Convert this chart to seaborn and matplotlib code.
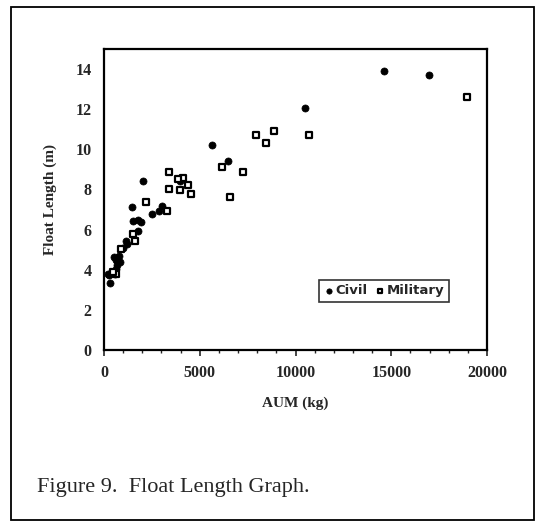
import numpy as np
import pandas as pd
import seaborn as sns
from matplotlib import pyplot as plt
from matplotlib.patches import Rectangle
from matplotlib.ticker import MultipleLocator

sns.set_style("white")
plt.rcParams["font.family"] = ["Liberation Serif", "DejaVu Serif"]

# Civil aircraft: AUM (kg) vs float length (m)
civil_aum = [14600, 16950, 10500, 5650, 6470, 2050, 3950, 1480, 3050, 2870,
             2500, 1520, 1780, 1930, 1750, 1150, 1200, 1000, 850, 700,
             760, 500, 600, 650, 400, 300, 250, 220, 350, 450, 550]
civil_len = [13.9, 13.7, 12.05, 10.2, 9.4, 8.4, 8.4, 7.15, 7.2, 6.95,
             6.8, 6.45, 6.5, 6.4, 5.95, 5.45, 5.3, 5.1, 4.4, 4.25,
             4.7, 4.65, 4.5, 4.05, 3.9, 3.35, 3.75, 3.8, 3.85, 3.9, 3.8]

# Military aircraft
mil_aum = [18950, 7950, 8900, 8450, 10700, 6150, 7250, 6600, 3400, 4150,
           3850, 4400, 3400, 3950, 4550, 2200, 3300, 1500, 1600, 900,
           600, 450]
mil_len = [12.6, 10.7, 10.9, 10.3, 10.7, 9.1, 8.85, 7.6, 8.85, 8.55,
           8.5, 8.2, 8.0, 7.95, 7.75, 7.4, 6.95, 5.8, 5.45, 5.05,
           3.8, 3.9]

frame = pd.DataFrame({
    "AUM": civil_aum + mil_aum,
    "Length": civil_len + mil_len,
    "Type": ["Civil"] * len(civil_aum) + ["Military"] * len(mil_aum),
})

fig = plt.figure(figsize=(5.37, 5.23), dpi=100)
ax = fig.add_axes([0.1937, 0.3308, 0.7132, 0.5755])

civ = frame[frame["Type"] == "Civil"]
mil = frame[frame["Type"] == "Military"]
sns.scatterplot(data=civ, x="AUM", y="Length", marker="o", color="black",
                s=26, edgecolor="black", linewidth=0.5, label="Civil", ax=ax)
sns.scatterplot(data=mil, x="AUM", y="Length", marker="s", facecolor="white",
                edgecolor="black", s=18, linewidth=1.6, label="Military", ax=ax)

ax.set_xlim(0, 20000)
ax.set_ylim(0, 15)
ax.xaxis.set_major_locator(MultipleLocator(5000))
ax.xaxis.set_minor_locator(MultipleLocator(1000))
ax.set_yticks(range(0, 15, 2))
ax.tick_params(axis="x", which="major", direction="out", length=4, width=1.2,
               pad=7, labelsize=11.5, bottom=True)
ax.tick_params(axis="x", which="minor", direction="out", length=2.5, width=1,
               bottom=True)
ax.tick_params(axis="y", which="major", length=0, pad=9, labelsize=11.5)
for lab in ax.get_xticklabels() + ax.get_yticklabels():
    lab.set_fontweight("bold")

for spine in ax.spines.values():
    spine.set_visible(True)
    spine.set_color("black")
    spine.set_linewidth(1.6)

ax.set_xlabel("AUM (kg)", fontsize=11, fontweight="bold", labelpad=11)
ax.set_ylabel("Float Length (m)", fontsize=11, fontweight="bold", labelpad=13)

leg = ax.legend(loc="center", bbox_to_anchor=(0.731, 0.196), ncol=2,
                frameon=True, fancybox=False, handletextpad=0.05,
                columnspacing=0.5, borderpad=0.35, handlelength=0.9,
                markerscale=0.75,
                prop={"family": "DejaVu Sans", "weight": "bold", "size": 9.5})
leg.get_frame().set_edgecolor("black")
leg.get_frame().set_linewidth(1.2)

fig.text(0.069, 0.067, "Figure 9.  Float Length Graph.", fontsize=16,
         ha="left", va="center")

fig.patches.append(Rectangle((0.0205, 0.0057), 0.9739, 0.9809,
                             transform=fig.transFigure, fill=False,
                             edgecolor="black", linewidth=1.3))

plt.savefig("out.png", dpi=100)
